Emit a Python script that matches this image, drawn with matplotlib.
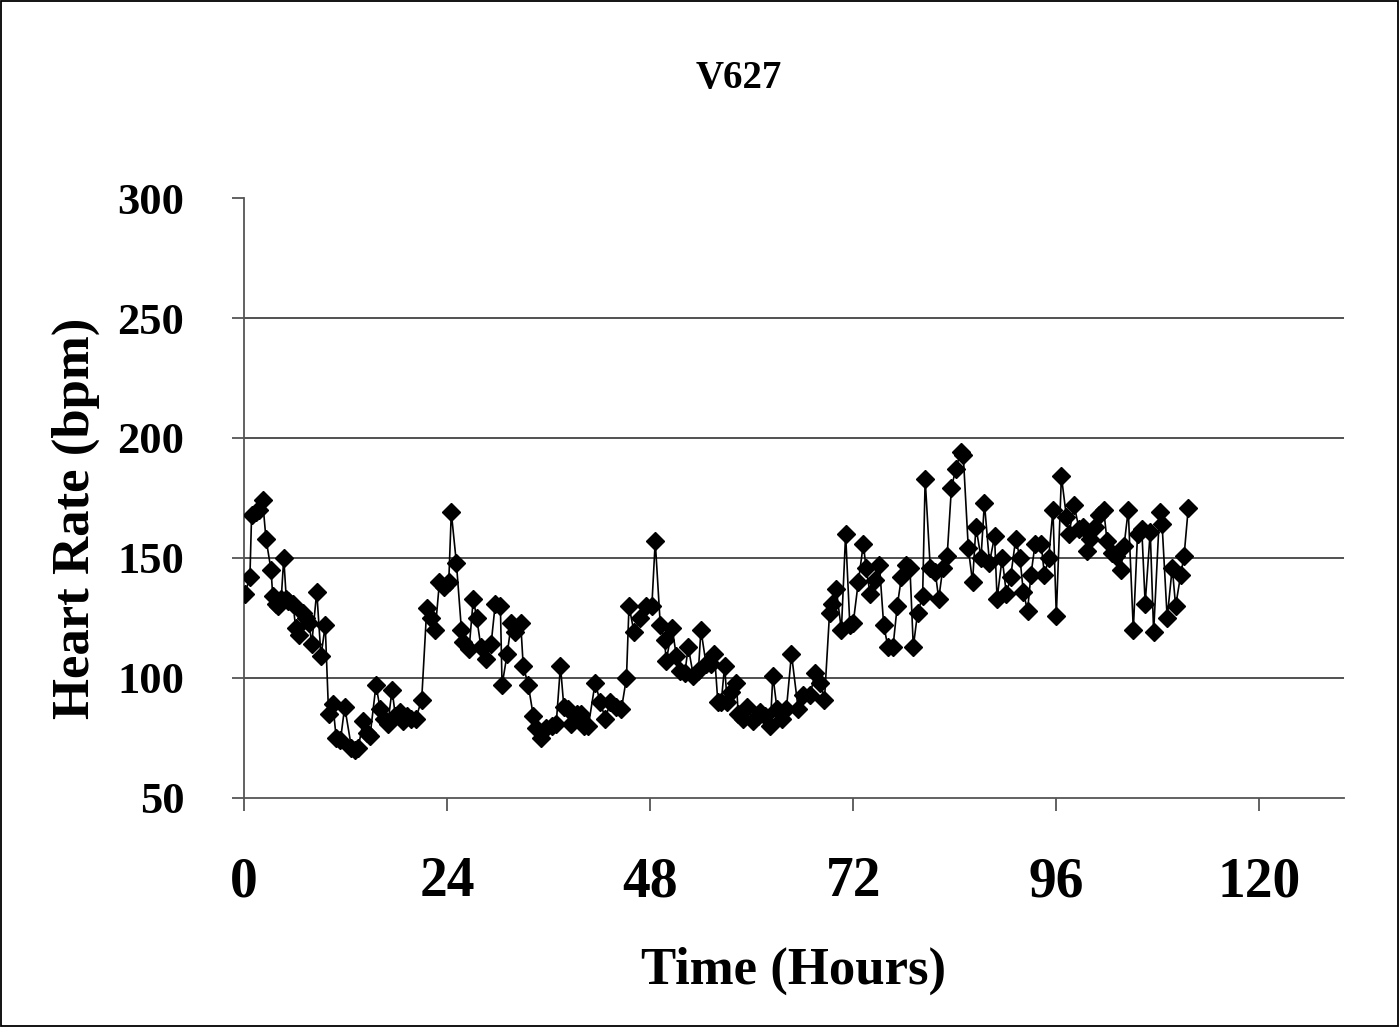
import matplotlib
matplotlib.use("Agg")
import matplotlib.pyplot as plt
from matplotlib.patches import Rectangle

plt.rcParams['font.family'] = ['Liberation Serif', 'DejaVu Serif']
plt.rcParams['font.weight'] = 'bold'

# hours since start
hours = [
    0.1, 0.7, 0.9, 1.4, 1.8, 2.2, 2.6, 3.2, 3.4, 3.8, 4.0, 4.4, 4.7, 5.0, 5.2, 5.8,
    6.1, 6.5, 7.0, 7.3, 7.7, 8.0, 8.6, 9.1, 9.6, 10.0, 10.5, 10.9, 11.4, 11.9, 12.7,
    13.1, 13.5, 14.1, 14.5, 14.9, 15.6, 16.1, 16.6, 17.0, 17.5, 17.9, 18.4, 18.8,
    19.3, 19.7, 20.3, 21.0, 21.6, 22.1, 22.6, 23.1, 23.6, 24.2, 24.5, 25.1, 25.7,
    25.9, 26.6, 27.1, 27.5, 28.0, 28.6, 29.2, 29.7, 30.3, 30.5, 31.1, 31.6, 32.0,
    32.7, 33.0, 33.6, 34.2, 34.5, 35.1, 35.7, 36.4, 36.9, 37.4, 37.8, 38.3, 38.7,
    39.3, 39.8, 40.2, 40.7, 41.5, 42.1, 42.7, 43.3, 44.0, 44.6, 45.2, 45.5, 46.1,
    46.8, 47.5, 48.2, 48.6, 49.2, 49.7, 49.9, 50.6, 51.1, 51.5, 52.1, 52.5, 53.1,
    53.7, 54.0, 54.6, 55.2, 55.6, 56.0, 56.4, 56.8, 57.1, 57.6, 58.2, 58.4, 59.0,
    59.5, 60.2, 60.7, 61.0, 61.6, 62.2, 62.5, 63.0, 63.6, 64.1, 64.7, 65.5, 66.1,
    66.9, 67.5, 68.1, 68.6, 69.2, 69.5, 70.0, 70.6, 71.1, 71.6, 72.0, 72.6, 73.2,
    73.5, 74.0, 74.6, 75.1, 75.6, 76.1, 76.7, 77.2, 77.7, 78.2, 78.7, 79.1, 79.6,
    80.2, 80.5, 81.1, 81.7, 82.1, 82.6, 83.1, 83.6, 84.1, 84.7, 85.0, 85.6, 86.1,
    86.5, 87.1, 87.5, 88.1, 88.7, 89.0, 89.6, 90.1, 90.6, 91.2, 91.7, 92.1, 92.6,
    93.0, 93.5, 94.2, 94.6, 95.1, 95.6, 96.0, 96.6, 97.2, 97.5, 98.1, 98.7, 99.2,
    99.6, 100.0, 100.6, 101.1, 101.6, 102.0, 102.6, 103.1, 103.6, 104.0, 104.5,
    105.1, 105.6, 106.1, 106.5, 107.1, 107.5, 108.2, 108.5, 109.1, 109.7, 110.1,
    110.7, 111.1, 111.6,
]

heart_rate = [
    135, 142, 168, 169, 170, 174, 158, 145, 134, 131, 130, 133, 150, 133, 132, 131,
    121, 118, 127, 125, 123, 114, 136, 109, 122, 85, 89, 75, 74, 88, 71,
    70, 71, 82, 77, 76, 97, 87, 83, 81, 95, 84, 86, 82,
    84, 83, 83, 91, 129, 125, 120, 140, 138, 140, 169, 148, 120,
    115, 112, 133, 125, 113, 108, 114, 131, 130, 97, 110, 123, 119,
    123, 105, 97, 84, 79, 75, 79, 80, 81, 105, 88, 87, 81,
    85, 85, 80, 80, 98, 90, 83, 90, 88, 87, 100, 130, 119,
    125, 130, 130, 157, 122, 116, 107, 121, 109, 103, 102, 113, 101,
    103, 120, 106, 106, 110, 90, 90, 105, 90, 94, 98, 85, 83,
    88, 82, 84, 86, 84, 80, 101, 87, 83, 87, 110, 87, 93,
    93, 102, 98, 91, 127, 131, 137, 120, 160, 122, 123, 140, 156,
    146, 135, 141, 147, 122, 113, 113, 130, 142, 147, 146, 113, 127,
    134, 183, 146, 144, 133, 146, 151, 179, 187, 194, 193, 154, 140,
    163, 150, 173, 148, 159, 133, 150, 135, 142, 158, 150, 136, 128,
    143, 156, 156, 143, 150, 170, 126, 184, 167, 160, 172, 162, 163,
    153, 158, 163, 168, 170, 157, 152, 151, 145, 155, 170,
    120, 160, 162, 131, 161, 119, 169, 164, 125, 146, 130,
    143, 151, 171,
]

title = "V627"
x_ticks = [0, 24, 48, 72, 96, 120]
y_ticks = [50, 100, 150, 200, 250, 300]

fig = plt.figure(figsize=(13.99, 10.27), dpi=100)
ax = fig.add_axes([0.1744, 0.2230, 0.7863, 0.5842])

ax.plot(hours, heart_rate, color='black', lw=1.2, marker='D', ms=9.5,
        markerfacecolor='black', markeredgecolor='black', zorder=3)

ax.set_xlim(0, 130)
ax.set_ylim(50, 300)
ax.set_xticks(x_ticks)
ax.set_yticks(y_ticks)

# horizontal grid only, no line at the top
for v in y_ticks[1:-1]:
    ax.axhline(v, color='#222222', lw=1.1, zorder=1)

for s in ['top', 'right']:
    ax.spines[s].set_visible(False)
for s in ['left', 'bottom']:
    ax.spines[s].set_color('#555555')
    ax.spines[s].set_linewidth(1.3)

ax.tick_params(axis='both', direction='out', length=9, width=1.3, color='#555555')
ax.tick_params(axis='y', pad=34, labelsize=32)
ax.tick_params(axis='x', pad=33, labelsize=40)
for lab in ax.get_xticklabels() + ax.get_yticklabels():
    lab.set_fontweight('bold')

fig.text(0.528, 0.924, title, ha='center', va='center', fontsize=28, fontweight='bold')
fig.text(0.567, 0.055, "Time (Hours)", ha='center', va='center', fontsize=38,
         fontweight='bold')
fig.text(0.054, 0.495, "Heart Rate (bpm)", ha='center', va='center', fontsize=38,
         fontweight='bold', rotation=90)

fig.add_artist(Rectangle((0.0005, 0.0007), 0.999, 0.9986, transform=fig.transFigure,
                         fill=False, ec='black', lw=1.3))

fig.savefig("out.png", dpi=100)
